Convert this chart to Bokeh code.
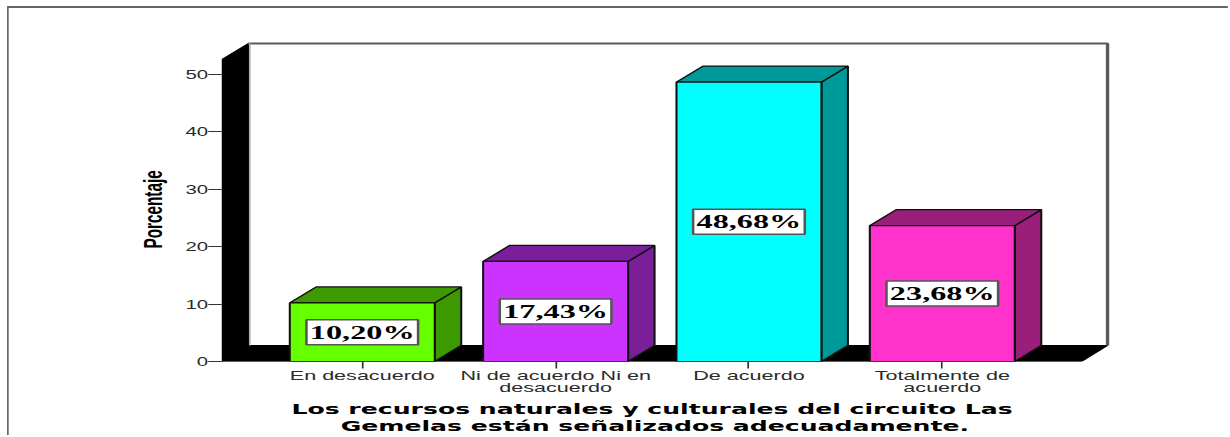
from bokeh.plotting import figure
from bokeh.models import Range1d, FixedTicker, Title, ColumnDataSource
from bokeh.core.properties import value
from bokeh.embed import file_html
from bokeh.resources import INLINE

categories = ["En desacuerdo", "Ni de acuerdo Ni en\ndesacuerdo", "De acuerdo", "Totalmente de\nacuerdo"]
percentages = [10.20, 17.43, 48.68, 23.68]
value_labels = ["10,20%", "17,43%", "48,68%", "23,68%"]
front_colors = ["#66ff00", "#cc33ff", "#00ffff", "#ff33cc"]
side_colors = ["#3d9900", "#7a1f99", "#009999", "#991f7a"]
y_ticks = [0, 10, 20, 30, 40, 50]
y_title = "Porcentaje"
title_lines = ["Los recursos naturales y culturales del circuito Las",
               "Gemelas están señalizados adecuadamente."]

PX_X = 193.4   # pixels per category
PX_Y = 5.74    # pixels per percent
X0 = 362.5     # pixel of the first category
DX = 26.5 / PX_X
DY = 16 / PX_Y
HALF = 72.5 / PX_X
LEFT = -0.7265
WALL_X = (1108 - X0) / PX_X
FLOOR_X = (1082 - X0) / PX_X
WALL_TOP = 55.4
S = 1.698      # the reference is stretched sideways by about this factor

p = figure(width=718, height=429, frame_width=524, output_backend="svg", toolbar_location=None,
           x_range=Range1d(LEFT, (1112 - X0) / PX_X), y_range=Range1d(0, 321 / PX_Y),
           min_border_left=125, min_border_right=69, min_border_top=32, min_border_bottom=76,
           outline_line_color=None, background_fill_color="white", border_fill_color="white",
           margin=(6, 0, 0, 7),
           styles={"border-top": "2px solid #666666", "border-left": "1.5px solid #666666",
                   "transform": f"scaleX({S})", "transform-origin": "0 0", "overflow": "hidden"})
p.grid.visible = False

p.patch([LEFT, LEFT + DX, LEFT + DX, LEFT], [0, DY, WALL_TOP, WALL_TOP - DY], color="black", line_width=1)
p.patch([LEFT, FLOOR_X, WALL_X, LEFT + DX], [0, 0, DY, DY], color="black", line_width=1)
p.line([LEFT + DX, WALL_X, WALL_X], [WALL_TOP, WALL_TOP, DY], line_color="#5a5a5a", line_width=2)
p.line([LEFT + DX + 1.5 / PX_X] * 2, [DY, WALL_TOP], line_color="#b0b0b0", line_width=1)

for i, (v, fc, sc) in enumerate(zip(percentages, front_colors, side_colors)):
    l, r = i - HALF, i + HALF
    p.patch([r, r + DX, r + DX, r], [0, DY, v + DY, v], fill_color=sc, line_color="#101010", line_width=1.2)
    p.patch([l, r, r + DX, l + DX], [v, v, v + DY, v + DY], fill_color=sc, line_color="#101010", line_width=1.2)
    p.quad(left=l, right=r, bottom=0, top=v, fill_color=fc, line_color="#101010", line_width=1.2)

src = ColumnDataSource(dict(x=list(range(4)), y=[v / 2 for v in percentages], t=value_labels))
p.text(x="x", y="y", text="t", source=src, text_align="center", text_baseline="middle",
       text_font=value("Liberation Serif"), text_font_style="bold", text_font_size="19px", text_color="black",
       background_fill_color="white", border_line_color="#555555", border_line_width=1.5, padding=2)

p.xaxis.ticker = FixedTicker(ticks=[0, 1, 2, 3])
p.xaxis.major_label_overrides = {i: c for i, c in enumerate(categories)}
p.xaxis.axis_line_color = None
p.xaxis.major_tick_in = 0
p.xaxis.major_tick_out = 7
p.xaxis.major_tick_line_color = "#333333"
p.xaxis.minor_tick_line_color = None
p.xaxis.major_label_standoff = 1
p.xaxis.major_label_text_font = "Liberation Sans"
p.xaxis.major_label_text_font_size = "12.7px"
p.xaxis.major_label_text_color = "#2a2a2a"
p.xaxis.major_label_text_line_height = 0.85

p.yaxis.ticker = FixedTicker(ticks=y_ticks)
p.yaxis.axis_line_color = None
p.yaxis.major_tick_in = 0
p.yaxis.major_tick_out = 8
p.yaxis.major_tick_line_color = "#333333"
p.yaxis.minor_tick_line_color = None
p.yaxis.major_label_standoff = 0
p.yaxis.major_label_text_font = "Liberation Sans"
p.yaxis.major_label_text_font_size = "12px"
p.yaxis.major_label_text_color = "#2a2a2a"
p.add_layout(Title(text=y_title, align="left", offset=113, text_font="Liberation Sans", text_font_style="bold",
                   text_font_size="15.3px", text_color="black", standoff=17), "left")

for line, off, gap in zip(title_lines, [41, 70], [0, -4]):
    p.add_layout(Title(text=line, align="left", offset=off, text_font="DejaVu Sans", text_font_style="bold",
                       text_font_size="14.8px", text_color="black", standoff=gap), "below")

open("out.html", "w").write(file_html(p, INLINE))
